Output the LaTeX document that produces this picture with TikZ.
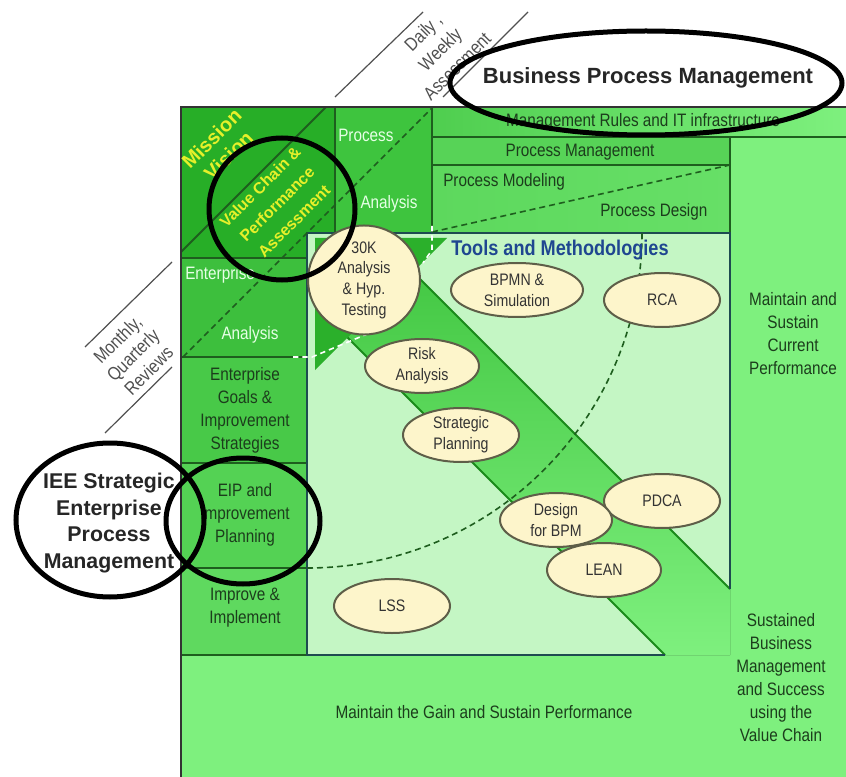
\documentclass[tikz,border=0pt]{standalone}
\usepackage{fontspec}
\setmainfont{Liberation Sans}
\newfontfamily\narrowfont[FakeStretch=0.85]{Liberation Sans}
\usepackage{tikz}
\usetikzlibrary{shapes.geometric,positioning}

\definecolor{outergreen}{HTML}{7EF07E}
\definecolor{missiongreen}{HTML}{27AE27}
\definecolor{processgreen}{HTML}{3EC43E}
\definecolor{rowtop}{HTML}{4FCE4F}
\definecolor{rowmid}{HTML}{57D357}
\definecolor{rowlow}{HTML}{5DD85D}
\definecolor{entgreen}{HTML}{3DBF3D}
\definecolor{goalgreen}{HTML}{48C948}
\definecolor{eipgreen}{HTML}{54D254}
\definecolor{impgreen}{HTML}{5FD95F}
\definecolor{boxgreen}{HTML}{C4F6C4}
\definecolor{arrowgreen}{HTML}{2BB02B}
\definecolor{bandtop}{HTML}{44C844}
\definecolor{cellline}{HTML}{1E5E1E}
\definecolor{banddark}{HTML}{1A8A1A}
\definecolor{boxline}{HTML}{1E4B50}
\definecolor{textdark}{HTML}{1C3D1C}
\definecolor{palegreen}{HTML}{E6FFE6}
\definecolor{yellowtext}{HTML}{E6F02A}
\definecolor{toolfill}{HTML}{FDF5CB}
\definecolor{toolline}{HTML}{5E5E48}
\definecolor{tooltext}{HTML}{333333}
\definecolor{titleblue}{HTML}{1F4690}
\definecolor{notegray}{HTML}{505050}

\tikzset{%
  font=\narrowfont,
  border/.style    = {draw=cellline, line width=1.5pt},
  boxedge/.style   = {draw=boxline, line width=1.6pt},
  guide/.style     = {draw=notegray, line width=0.9pt},
  dashline/.style  = {draw=cellline, line width=1.2pt, dash pattern=on 4.5pt off 3pt},
  whitedash/.style = {draw=white, line width=1.2pt, dash pattern=on 4pt off 3pt},
  tool/.style      = {ellipse, draw=toolline, line width=1.5pt, fill=toolfill,
                      inner sep=0pt, align=center, text=tooltext,
                      font=\narrowfont\fontsize{12.5}{15.5}\selectfont},
  ring/.style      = {ellipse, draw=black, line width=3.75pt, inner sep=0pt},
  lbl/.style       = {inner sep=0pt, align=center, text=textdark,
                      font=\narrowfont\fontsize{13.5}{17.25}\selectfont},
  pale/.style      = {lbl, text=palegreen},
  yel/.style       = {inner sep=0pt, align=center, text=yellowtext, rotate=45},
  note/.style      = {inner sep=0pt, align=center, text=notegray, rotate=45,
                      font=\narrowfont\fontsize{14}{17}\selectfont}
}

\begin{document}
\begin{tikzpicture}[x=0.75pt,y=-0.75pt,
                    big/.style={inner sep=0pt,align=center,text=black!85,%
                    font=\bfseries\fontsize{16.5}{20}\selectfont}]
  \useasboundingbox (0,0) rectangle (846,777);

  % panels
  \fill[outergreen] (181,107) rectangle (846,777);
  \fill[missiongreen] (181,107) rectangle (335,258);
  \fill[processgreen] (335,107) rectangle (432,233);
  \fill[left color=rowtop, right color=outergreen] (432,107) rectangle (846,137);
  \fill[rowmid] (432,137) rectangle (730,165);
  \fill[left color=rowlow, right color=rowlow!70!outergreen] (432,165) rectangle (730,233);
  \fill[entgreen] (181,258) rectangle (307,357);
  \fill[goalgreen] (181,357) rectangle (307,463);
  \fill[eipgreen] (181,463) rectangle (307,568);
  \fill[impgreen] (181,568) rectangle (307,655);

  % tools box with the arrow running through it
  \fill[boxgreen] (307,233) rectangle (730,655);
  \fill[top color=bandtop, bottom color=outergreen]
    (413,272) -- (730,589) -- (730,655) -- (665,655) -- (347.5,337.5) -- cycle;
  \fill[arrowgreen] (315,238) -- (447,238) -- (315,370) -- cycle;

  % cell borders
  \draw[border] (335,107) -- (335,233);
  \draw[border] (432,107) -- (432,233);
  \draw[border] (432,137) -- (846,137);
  \draw[border] (432,165) -- (730,165);
  \draw[border] (730,137) -- (730,233);
  \draw[border] (326,107) -- (181,252);
  \foreach \y in {258,357,463,568,655}
    \draw[border] (181,\y) -- (307,\y);
  \draw[border, draw=black!80] (181,777) -- (181,107) -- (846,107);
  \draw[border, draw=banddark] (413,272) -- (730,589);
  \draw[border, draw=banddark] (347.5,337.5) -- (665,655);
  \draw[boxedge] (665,655) -- (307,655) -- (307,233) -- (730,233) -- (730,589);

  % dashed guides
  \draw[dashline] (183,357) -- (432,108);
  \draw[dashline] (432,232) -- (730,165);
  \draw[dashline] (307,568) arc[start angle=-90, end angle=0, radius=251.25pt];
  \draw[whitedash] (293,357) -- (312,357) -- (372,332);
  \draw[whitedash] (432,226) -- (432,250) -- (423,263);

  % review cycles
  \draw[guide] (335,97) -- (423,12);
  \draw[guide] (443,97) -- (528,12);
  \draw[guide] (85,347) -- (172,262);
  \draw[guide] (105,433) -- (172,367);
  \node[note, font=\narrowfont\fontsize{14}{18}\selectfont] (daily) at (440,49)
    {Daily ,\\Weekly\\Assessment};
  \node[note, font=\narrowfont\fontsize{14}{16.5}\selectfont] (monthly) at (133,355)
    {Monthly,\\Quarterly\\Reviews};

  % cell labels
  \node[yel, font=\bfseries\fontsize{15}{18}\selectfont] (mission) at (220,147)
    {Mission\\Vision};
  \node[yel, font=\bfseries\fontsize{12}{18}\selectfont] (vchain) at (277,204)
    {Value Chain \&\\Performance\\Assessment};
  \node[pale, anchor=west] (proc) at (338,135) {Process};
  \node[pale] (ana1) at (389,204) {Analysis};
  \node[pale, anchor=west] (ent) at (185,275) {Enterprise};
  \node[pale] (ana2) at (250,335) {Analysis};
  \node[lbl] (goals) at (245,410) {Enterprise\\Goals \&\\Improvement\\Strategies};
  \node[lbl] (eip) at (245,515) {EIP and\\Improvement\\Planning};
  \node[lbl] (improve) at (245,608) {Improve \&\\Implement};
  \node[lbl] (gain) at (484,712) {Maintain the Gain and Sustain Performance};
  \node[lbl] (mrules) at (643,122) {Management Rules and IT infrastructure};
  \node[lbl] (pmgmt) at (580,152) {Process Management};
  \node[lbl, anchor=west] (pmodel) at (443,182) {Process Modeling};
  \node[lbl, anchor=west] (pdesign) at (600,212) {Process Design};
  \node[lbl] (sustain) at (793,334) {Maintain and\\Sustain\\Current\\Performance};
  \node[lbl] (success) at (781,678)
    {Sustained\\Business\\Management\\and Success\\using the\\Value Chain};
  \node[lbl, text=titleblue, font=\narrowfont\bfseries\fontsize{16}{19}\selectfont]
    (tools) at (560,250) {Tools and Methodologies};

  % tools
  \node[tool, minimum width=84pt, minimum height=69pt] (k30) at (364,280)
    {30K\\Analysis\\\& Hyp.\\Testing};
  \node[tool, minimum width=99pt, minimum height=40.5pt] (bpmn) at (517,290)
    {BPMN \&\\Simulation};
  \node[tool, minimum width=87pt, minimum height=40.5pt] (rca) at (662,300) {RCA};
  \node[tool, minimum width=85.5pt, minimum height=40.5pt] (risk) at (422,366)
    {Risk\\Analysis};
  \node[tool, minimum width=87pt, minimum height=40.5pt] (strat) at (461,435)
    {Strategic\\Planning};
  \node[tool, minimum width=87pt, minimum height=40.5pt] (pdca) at (662,501) {PDCA};
  \node[tool, minimum width=84pt, minimum height=40.5pt] (dfb) at (556,520)
    {Design\\for BPM};
  \node[tool, minimum width=85.5pt, minimum height=40.5pt] (lean) at (604,570) {LEAN};
  \node[tool, minimum width=87pt, minimum height=40.5pt] (lss) at (392,606) {LSS};

  % headings and the rings round them
  \node[big] (bpm) at (648,78) {Business Process Management};
  \node[big, font=\bfseries\fontsize{16}{20}\selectfont] (iee) at (109,523)
    {IEE Strategic\\Enterprise\\Process\\Management};
  \node[ring, minimum width=294pt, minimum height=78pt] (bpmring) at (646,83) {};
  \node[ring, minimum width=109.5pt, minimum height=106.5pt] (vcring) at (282,209) {};
  \node[ring, minimum width=141pt, minimum height=115.5pt] (ieering) at (110,520) {};
  \node[ring, minimum width=115.5pt, minimum height=94.5pt] (eipring) at (243,521) {};
\end{tikzpicture}
\end{document}
